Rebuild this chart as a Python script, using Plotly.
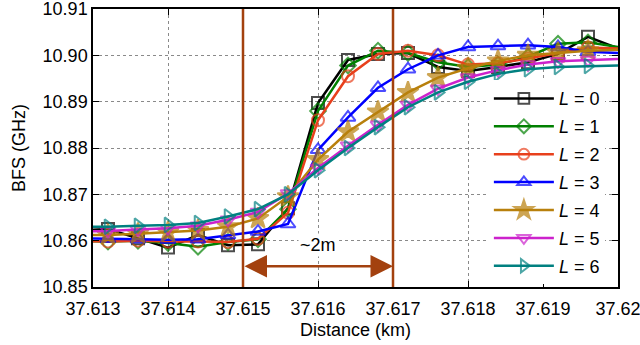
import plotly.graph_objects as go

distance_km = [37.6128, 37.6132, 37.6136, 37.6140, 37.6144, 37.6148, 37.6152, 37.6156,
               37.6160, 37.6164, 37.6168, 37.6172, 37.6176, 37.6180, 37.6184, 37.6188,
               37.6192, 37.6196, 37.6200]

bfs_L0 = [10.8622, 10.8625, 10.8605, 10.8585, 10.8612, 10.8590, 10.8592, 10.8670, 10.8897, 10.8990,
          10.9003, 10.9005, 10.8975, 10.8966, 10.8975, 10.8985, 10.9003, 10.9040, 10.9015]
bfs_L1 = [10.8600, 10.8598, 10.8600, 10.8595, 10.8587, 10.8597, 10.8603, 10.8668, 10.8880, 10.8978,
          10.9010, 10.9005, 10.8985, 10.8975, 10.8980, 10.8997, 10.9025, 10.9028, 10.9018]
bfs_L2 = [10.8600, 10.8598, 10.8600, 10.8598, 10.8598, 10.8597, 10.8604, 10.8660, 10.8860, 10.8955,
          10.9003, 10.9010, 10.9000, 10.8980, 10.8983, 10.8993, 10.9005, 10.9017, 10.9015]
bfs_L3 = [10.8605, 10.8604, 10.8603, 10.8602, 10.8603, 10.8612, 10.8620, 10.8636, 10.8796, 10.8866,
          10.8930, 10.8970, 10.9000, 10.9018, 10.9020, 10.9022, 10.9018, 10.9008, 10.9005]
bfs_L4 = [10.8612, 10.8612, 10.8615, 10.8618, 10.8622, 10.8630, 10.8648, 10.8695, 10.8775, 10.8835,
          10.8878, 10.8920, 10.8952, 10.8972, 10.8988, 10.9000, 10.9005, 10.9010, 10.9012]
bfs_L5 = [10.8620, 10.8621, 10.8624, 10.8627, 10.8632, 10.8645, 10.8662, 10.8702, 10.8757, 10.8805,
          10.8850, 10.8893, 10.8928, 10.8952, 10.8968, 10.8980, 10.8987, 10.8990, 10.8992]
bfs_L6 = [10.8630, 10.8630, 10.8632, 10.8634, 10.8638, 10.8652, 10.8668, 10.8700, 10.8752, 10.8800,
          10.8845, 10.8888, 10.8920, 10.8943, 10.8960, 10.8970, 10.8975, 10.8977, 10.8978]

series_names = ["0", "1", "2", "3", "4", "5", "6"]
series_values = [bfs_L0, bfs_L1, bfs_L2, bfs_L3, bfs_L4, bfs_L5, bfs_L6]

x_tickvals = [37.613, 37.614, 37.615, 37.616, 37.617, 37.618, 37.619, 37.620]
x_ticktext = ["37.613", "37.614", "37.615", "37.616", "37.617", "37.618", "37.619", "37.62"]
y_tickvals = [10.85, 10.86, 10.87, 10.88, 10.89, 10.90, 10.91]
y_ticktext = ["10.85", "10.86", "10.87", "10.88", "10.89", "10.90", "10.91"]

marked_start = 37.615
marked_end = 37.617
marked_label = "~2m"

colors = ["#000000", "#008000", "#E8401C", "#0000FF", "#B8800C", "#CC22CC", "#008080"]
symbols = ["square-open", "diamond-open", "circle-open", "triangle-up-open", "star",
           "triangle-down-open", "triangle-right-open"]
sizes = [12, 12, 12, 13, 16, 13, 13]

FONT = "Liberation Sans, Arial, sans-serif"
BROWN = "#A3410F"

fig = go.Figure()
n = len(distance_km)
for name, vals, col, sym, sz in zip(series_names, series_values, colors, symbols, sizes):
    msize = [sz] * n
    msize[0] = 0
    msize[-1] = 0
    fig.add_trace(go.Scatter(
        x=distance_km, y=vals, mode="lines+markers",
        name="<i>L</i> = " + name, legendgroup=name,
        line=dict(color=col, width=2.5),
        marker=dict(symbol=sym, size=msize, color=col,
                    line=dict(color=col, width=2)),
        cliponaxis=True,
    ))

for xv in (marked_start, marked_end):
    fig.add_shape(type="line", xref="x", yref="paper", x0=xv, x1=xv, y0=0, y1=1,
                  line=dict(color=BROWN, width=2.5), layer="above")

arrow_y = 10.8545
fig.add_annotation(x=marked_end, y=arrow_y, ax=marked_start, ay=arrow_y,
                   xref="x", yref="y", axref="x", ayref="y", text="",
                   showarrow=True, arrowhead=2, startarrowhead=2, arrowside="end+start",
                   arrowsize=1.8, startarrowsize=1.8, arrowwidth=2.5, arrowcolor=BROWN)
fig.add_annotation(x=(marked_start + marked_end) / 2, y=10.8591, text=marked_label,
                   showarrow=False, font=dict(size=18, color="black", family=FONT),
                   bgcolor="white")

axis_common = dict(showline=True, linecolor="black", linewidth=1.5, mirror="ticks",
                   ticks="inside", ticklen=6, tickcolor="black", tickwidth=1,
                   showgrid=True, gridcolor="#8a8a8a", griddash="dot", gridwidth=1,
                   zeroline=False, automargin=False, ticklabeloverflow="allow",
                   tickfont=dict(size=18, family=FONT, color="black"))

fig.update_xaxes(range=[37.613, 37.620], tickvals=x_tickvals, ticktext=x_ticktext,
                 ticklabelstandoff=5,
                 title=dict(text="Distance (km)", font=dict(size=18, family=FONT, color="black"),
                            standoff=5),
                 **axis_common)
fig.update_yaxes(range=[10.85, 10.91], tickvals=y_tickvals, ticktext=y_ticktext,
                 title=dict(text="BFS (GHz)", font=dict(size=18, family=FONT, color="black"),
                            standoff=12),
                 **axis_common)

fig.update_layout(
    width=640, height=345,
    margin=dict(l=93, r=22, t=9, b=58),
    paper_bgcolor="white", plot_bgcolor="white",
    font=dict(family=FONT, size=18, color="black"),
    legend=dict(x=0.975, xanchor="right", y=0.01, yanchor="bottom",
                bgcolor="white", borderwidth=0, font=dict(size=18, family=FONT),
                itemwidth=60, tracegroupgap=1.5),
)

fig.write_html("out.html", config={"displayModeBar": False},
               post_script="document.body.style.margin='0';")
